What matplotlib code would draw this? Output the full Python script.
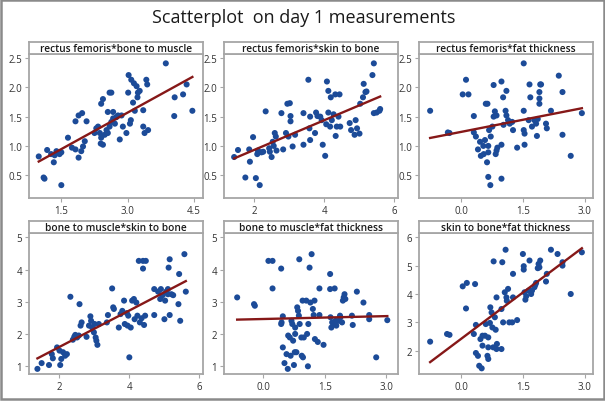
import numpy as np
import matplotlib
matplotlib.use('Agg')
import matplotlib.pyplot as plt
from matplotlib.patches import Rectangle

plt.rcParams['font.family'] = ['Open Sans', 'DejaVu Sans']

title = 'Scatterplot  on day 1 measurements'

panel_titles = ['rectus femoris*bone to muscle', 'rectus femoris*skin to bone',
                'rectus femoris*fat thickness', 'bone to muscle*skin to bone',
                'bone to muscle*fat thickness', 'skin to bone*fat thickness']

# (x, y) pairs
p1 = np.array([(0.99, 0.82), (1.10, 0.46), (1.12, 0.44), (1.50, 0.33), (1.18, 0.93), (1.27, 0.86),
               (1.33, 0.72), (1.39, 0.91), (1.46, 0.86), (1.50, 0.89), (1.35, 0.84), (1.65, 1.14),
               (1.74, 0.97), (1.82, 0.94), (1.89, 0.80), (1.95, 0.91), (1.99, 0.99), (2.03, 1.08),
               (1.82, 1.42), (1.89, 1.52), (1.97, 1.56), (2.07, 1.42), (2.25, 1.22), (2.29, 1.30),
               (2.33, 1.33), (2.37, 1.22), (2.40, 1.14), (2.39, 1.04), (2.44, 1.02), (2.48, 1.19),
               (2.52, 1.27), (2.55, 1.22), (2.59, 1.33), (2.63, 1.41), (2.67, 1.47), (2.71, 1.38),
               (2.74, 1.49), (2.82, 1.11), (2.40, 1.72), (2.44, 1.80), (2.55, 1.58), (2.59, 1.91),
               (2.63, 1.91), (2.67, 1.58), (2.78, 1.52), (2.86, 1.52), (2.89, 1.33), (2.97, 1.22),
               (3.01, 1.91), (3.02, 2.21), (3.07, 1.44), (3.05, 1.38), (3.08, 2.13), (3.14, 2.07),
               (3.20, 2.02), (3.22, 1.83), (3.12, 1.74), (3.16, 1.60), (3.23, 1.91), (3.27, 1.94),
               (3.35, 1.33), (3.35, 1.61), (3.38, 1.22), (3.42, 2.13), (3.44, 2.05), (3.46, 1.27),
               (3.86, 2.41), (4.06, 1.83), (4.05, 1.51), (4.25, 1.88), (4.33, 2.05), (4.46, 1.60)])

p2 = np.array([(1.43, 0.81), (1.54, 0.93), (1.75, 0.46), (1.88, 0.73), (1.86, 0.94), (1.97, 1.15),
               (2.05, 0.45), (2.09, 0.86), (2.11, 0.92), (2.16, 0.33), (2.21, 0.89), (2.26, 0.90),
               (2.33, 1.59), (2.43, 0.96), (2.45, 0.90), (2.50, 0.81), (2.53, 1.07), (2.56, 1.00),
               (2.59, 1.22), (2.62, 1.16), (2.64, 0.92), (2.78, 1.56), (2.83, 0.94), (2.91, 1.22),
               (2.95, 1.72), (2.98, 1.16), (3.02, 1.73), (3.04, 1.51), (3.04, 1.42), (3.10, 0.99),
               (3.17, 1.19), (3.41, 1.56), (3.41, 1.02), (3.55, 2.13), (3.58, 1.30), (3.60, 1.50),
               (3.60, 1.10), (3.74, 1.22), (3.77, 1.57), (3.81, 1.51), (3.89, 1.50), (3.93, 1.44),
               (3.96, 1.02), (4.03, 0.83), (4.06, 1.37), (4.08, 2.10), (4.12, 1.94), (4.12, 1.57),
               (4.17, 1.33), (4.19, 1.83), (4.22, 1.44), (4.27, 1.54), (4.32, 1.88), (4.33, 1.17),
               (4.36, 1.33), (4.41, 1.50), (4.44, 1.88), (4.46, 1.33), (4.73, 1.39), (4.77, 1.27),
               (4.87, 1.19), (4.90, 1.44), (4.94, 1.30), (5.01, 1.21), (5.03, 1.72), (5.11, 1.83),
               (5.13, 2.06), (5.18, 1.92), (5.21, 1.93), (5.38, 2.21), (5.42, 2.41), (5.42, 1.56),
               (5.50, 1.57), (5.58, 1.60), (5.60, 1.63)])

p3 = np.array([(-0.75, 1.60), (-0.32, 1.23), (-0.28, 1.22), (0.12, 2.13), (0.04, 1.88), (0.18, 1.88),
               (0.31, 1.51), (0.31, 1.23), (0.36, 1.16), (0.41, 0.94), (0.46, 1.07), (0.48, 0.83),
               (0.54, 1.00), (0.55, 0.86), (0.58, 1.10), (0.60, 1.72), (0.64, 1.72), (0.63, 0.72),
               (0.66, 1.00), (0.66, 0.89), (0.66, 0.47), (0.68, 1.27), (0.71, 0.33), (0.72, 1.16),
               (0.76, 1.33), (0.79, 2.04), (0.79, 1.50), (0.82, 1.59), (0.86, 1.52), (0.84, 0.86),
               (0.86, 0.92), (0.88, 0.97), (0.98, 2.10), (0.98, 1.02), (0.98, 0.44), (1.02, 1.83),
               (1.03, 1.36), (1.10, 1.94), (1.08, 1.60), (1.10, 1.52), (1.14, 1.44), (1.18, 1.38),
               (1.24, 1.41), (1.26, 1.27), (1.36, 0.97), (1.52, 2.41), (1.52, 1.60), (1.52, 1.27),
               (1.54, 1.21), (1.54, 1.02), (1.64, 1.44), (1.66, 2.05), (1.68, 1.83), (1.72, 1.33),
               (1.78, 1.44), (1.82, 1.38), (1.84, 1.17), (1.86, 1.46), (1.90, 1.92), (1.90, 1.81),
               (1.90, 1.72), (1.92, 2.05), (1.94, 2.05), (2.06, 1.38), (2.08, 1.30), (2.18, 1.60),
               (2.37, 2.20), (2.46, 1.92), (2.46, 1.19), (2.66, 0.83), (2.93, 1.56)])

p4 = np.array([(1.38, 0.90), (1.50, 1.08), (1.71, 1.02), (1.79, 1.36), (1.82, 1.23), (1.94, 1.57),
               (2.01, 1.47), (2.03, 1.02), (2.06, 1.21), (2.11, 1.42), (2.17, 1.31), (2.22, 1.36),
               (2.32, 3.15), (2.39, 1.81), (2.43, 1.90), (2.46, 1.96), (2.51, 1.88), (2.56, 1.94),
               (2.58, 2.92), (2.61, 2.25), (2.64, 2.35), (2.78, 1.90), (2.85, 2.25), (2.89, 2.54),
               (2.91, 2.40), (2.94, 2.19), (2.99, 2.04), (3.01, 2.30), (3.04, 1.88), (3.06, 1.78),
               (3.09, 1.65), (3.13, 2.30), (3.36, 2.35), (3.39, 2.58), (3.51, 3.41), (3.54, 2.82),
               (3.56, 2.77), (3.70, 2.19), (3.75, 2.61), (3.80, 2.71), (3.85, 3.03), (3.87, 2.30),
               (3.93, 2.64), (3.95, 2.25), (3.97, 2.56), (4.00, 1.26), (4.04, 2.19), (4.08, 3.03),
               (4.13, 3.08), (4.15, 2.45), (4.20, 2.97), (4.23, 2.56), (4.27, 4.27), (4.30, 2.35),
               (4.35, 2.48), (4.39, 4.27), (4.39, 4.03), (4.42, 2.27), (4.45, 2.56), (4.47, 4.27),
               (4.71, 2.58), (4.71, 3.39), (4.82, 3.31), (4.88, 3.08), (4.90, 3.39), (4.95, 3.20),
               (5.00, 2.45), (5.02, 3.03), (5.05, 3.31), (5.10, 3.23), (5.10, 3.39), (5.12, 4.06),
               (5.15, 4.32), (5.15, 2.58), (5.20, 3.23), (5.25, 3.20), (5.40, 2.92), (5.42, 3.86),
               (5.45, 2.40), (5.57, 4.48), (5.61, 3.31)])

p5 = np.array([(-0.63, 3.13), (-0.22, 2.92), (-0.20, 2.87), (0.13, 4.27), (0.23, 4.27), (0.23, 3.41),
               (0.44, 4.03), (0.45, 2.35), (0.44, 2.30), (0.48, 2.54), (0.48, 1.57), (0.52, 1.08),
               (0.57, 1.36), (0.60, 0.90), (0.61, 1.94), (0.65, 1.88), (0.67, 1.31), (0.69, 2.40),
               (0.71, 2.30), (0.73, 1.78), (0.75, 1.02), (0.77, 1.42), (0.78, 2.19), (0.78, 1.99),
               (0.81, 1.42), (0.83, 2.82), (0.85, 2.71), (0.87, 2.56), (0.88, 4.32), (0.89, 2.30),
               (0.93, 1.88), (0.94, 1.31), (0.96, 3.03), (0.97, 1.26), (0.99, 1.88), (1.05, 3.03),
               (1.07, 1.99), (1.09, 0.98), (1.10, 2.30), (1.13, 4.06), (1.15, 2.97), (1.18, 4.48),
               (1.21, 2.77), (1.23, 2.58), (1.25, 3.03), (1.26, 1.83), (1.33, 1.74), (1.37, 2.58),
               (1.37, 3.41), (1.47, 1.65), (1.63, 3.86), (1.63, 3.39), (1.64, 2.51), (1.66, 2.19),
               (1.68, 2.35), (1.71, 2.30), (1.74, 3.41), (1.76, 2.40), (1.78, 2.25), (1.84, 2.40),
               (1.87, 2.56), (1.88, 2.51), (1.92, 2.35), (1.94, 3.03), (1.96, 3.13), (1.98, 3.23),
               (2.00, 3.08), (2.16, 2.56), (2.18, 2.27), (2.28, 3.31), (2.44, 2.97), (2.58, 2.58),
               (2.58, 2.45), (2.75, 1.26), (3.02, 2.42)])

p6 = np.array([(-0.75, 2.32), (-0.34, 2.59), (-0.28, 2.56), (0.04, 4.27), (0.14, 4.39), (0.12, 3.49),
               (0.34, 4.35), (0.31, 2.59), (0.36, 2.91), (0.36, 1.92), (0.41, 1.82), (0.44, 1.47),
               (0.50, 1.38), (0.47, 2.41), (0.52, 2.53), (0.52, 2.18), (0.58, 2.53), (0.60, 2.94),
               (0.64, 1.82), (0.66, 1.71), (0.66, 2.47), (0.66, 2.12), (0.70, 2.98), (0.71, 3.53),
               (0.74, 3.35), (0.76, 2.82), (0.78, 2.12), (0.79, 5.15), (0.82, 3.18), (0.84, 2.74),
               (0.86, 3.88), (0.86, 2.06), (0.87, 2.24), (0.98, 2.06), (0.98, 3.47), (1.00, 5.12),
               (1.02, 3.00), (1.06, 4.06), (1.08, 5.56), (1.10, 3.88), (1.11, 3.76), (1.14, 4.18),
               (1.17, 3.00), (1.24, 3.00), (1.26, 3.88), (1.26, 4.71), (1.36, 3.08), (1.50, 5.41),
               (1.52, 4.98), (1.52, 4.86), (1.54, 4.06), (1.56, 3.80), (1.58, 3.92), (1.64, 4.12),
               (1.66, 5.18), (1.70, 4.00), (1.72, 4.12), (1.78, 4.24), (1.80, 4.32), (1.82, 4.39),
               (1.86, 4.91), (1.88, 5.06), (1.92, 5.18), (1.90, 4.94), (2.06, 4.44), (2.08, 4.71),
               (2.18, 5.56), (2.34, 5.41), (2.46, 5.12), (2.46, 5.00), (2.66, 4.00), (2.93, 5.47)])

panels = [p1, p2, p3, p4, p5, p6]
xticks = [[1.5, 3.0, 4.5], [2, 4, 6], [0.0, 1.5, 3.0], [2, 4, 6], [0.0, 1.5, 3.0], [0.0, 1.5, 3.0]]
yticks = [[0.5, 1.0, 1.5, 2.0, 2.5]] * 3 + [[1, 2, 3, 4, 5]] * 2 + [[2, 3, 4, 5, 6]]
xfmt = ['{:.1f}', '{:.0f}', '{:.1f}', '{:.0f}', '{:.1f}', '{:.1f}']
yfmt = ['{:.1f}'] * 3 + ['{:.0f}'] * 3
xlims = [(0.77, 4.70), (1.14, 6.11), (-1.02, 3.20), (1.14, 6.10), (-0.95, 3.28), (-1.02, 3.20)]
ylims = [(0.11, 2.57)] * 3 + [(0.74, 5.14)] * 2 + [(1.18, 6.15)]

W, H = 605, 402
fig = plt.figure(figsize=(W / 100, H / 100), dpi=100)
fig.patch.set_facecolor('white')
fig.add_artist(Rectangle((0.002, 0.004), 0.996, 0.994, transform=fig.transFigure,
                         fill=False, edgecolor='#8a8a8a', linewidth=1.8))
fig.text(0.502, 1 - 18 / H, title, ha='center', va='center', fontsize=13,
         fontweight='medium', color='#1a1a1a')

col_left = [29, 224, 419]
col_w = 174
rows = [(43, 55, 199), (222, 234, 375)]  # strip top, axes top, axes bottom in px

blue = '#1c4b98'
red = '#861818'
grey = '#a6a6a6'

for i, pts in enumerate(panels):
    r, c = divmod(i, 3)
    st, at, ab = rows[r]
    left = col_left[c] / W
    ax = fig.add_axes([left, 1 - ab / H, col_w / W, (ab - at) / H])
    sx = fig.add_axes([left, 1 - at / H, col_w / W, (at - st) / H])
    sx.set_xticks([])
    sx.set_yticks([])
    for s in sx.spines.values():
        s.set_color(grey)
        s.set_linewidth(1.3)
    sx.text(0.5, 0.45, panel_titles[i], ha='center', va='center', fontsize=7.3,
            fontweight='semibold', color='#1a1a1a', transform=sx.transAxes)

    x, y = pts[:, 0], pts[:, 1]
    ax.scatter(x, y, s=19, color=blue, edgecolors='none', zorder=3)
    b, a = np.polyfit(x, y, 1)
    xx = np.array([x.min(), x.max()])
    ax.plot(xx, a + b * xx, color=red, linewidth=1.7, zorder=4)

    ax.set_xlim(*xlims[i])
    ax.set_ylim(*ylims[i])
    ax.set_xticks(xticks[i])
    ax.set_xticklabels([xfmt[i].format(v) for v in xticks[i]])
    ax.set_yticks(yticks[i])
    ax.set_yticklabels([yfmt[i].format(v) for v in yticks[i]])
    ax.tick_params(labelsize=7, colors=grey, labelcolor='#333333', length=3, width=0.8, pad=2)
    for s in ax.spines.values():
        s.set_color(grey)
        s.set_linewidth(1.3)

fig.savefig('out.png', dpi=100)
